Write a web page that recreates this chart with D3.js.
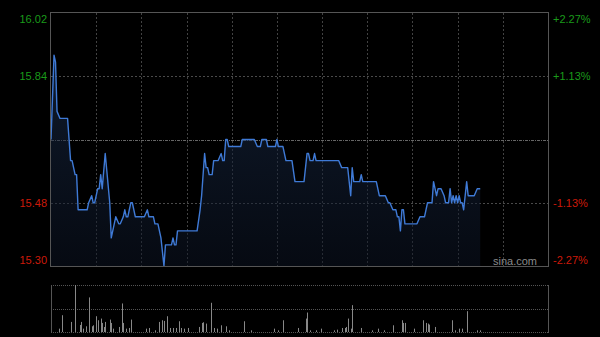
<!DOCTYPE html>
<html>
<head>
<meta charset="utf-8">
<script src="https://cdn.jsdelivr.net/npm/d3@7"></script>
<style>
  body { margin: 0; background: #000; }
  text { font-family: Arial, "Liberation Sans", sans-serif; }
</style>
</head>
<body>
<div id="chart"></div>
<script>
// dados (minuto do pregão, preço)
const priceMinutes = [0, 2, 3, 4, 6, 11, 13, 14, 16, 17, 18, 24, 25, 27, 28, 29, 31, 32, 33, 34, 36, 39, 40, 42, 43, 45, 46, 48, 49, 50, 51, 53, 54, 56, 62, 64, 65, 68, 69, 71, 73, 75, 76, 80, 81, 82, 83, 84, 97, 99, 100, 102, 103, 104, 105, 107, 108, 111, 113, 114, 115, 116, 117, 118, 126, 127, 135, 137, 139, 140, 143, 144, 149, 150, 151, 154, 156, 160, 162, 168, 170, 171, 172, 174, 175, 176, 191, 193, 197, 199, 200, 201, 205, 206, 207, 216, 218, 222, 224, 225, 227, 229, 230, 231, 232, 233, 234, 235, 243, 245, 248, 250, 253, 254, 256, 257, 259, 261, 262, 264, 265, 266, 267, 268, 269, 270, 271, 272, 273, 274, 276, 277, 281, 283, 285];
const prices = [15.66, 15.90, 15.88, 15.74, 15.72, 15.72, 15.60, 15.60, 15.56, 15.56, 15.46, 15.46, 15.48, 15.50, 15.48, 15.48, 15.52, 15.52, 15.56, 15.52, 15.62, 15.48, 15.38, 15.42, 15.44, 15.42, 15.42, 15.44, 15.46, 15.44, 15.44, 15.48, 15.48, 15.44, 15.44, 15.46, 15.44, 15.44, 15.42, 15.42, 15.38, 15.30, 15.36, 15.36, 15.38, 15.36, 15.36, 15.40, 15.40, 15.46, 15.50, 15.62, 15.58, 15.58, 15.56, 15.56, 15.60, 15.60, 15.62, 15.60, 15.60, 15.66, 15.66, 15.64, 15.64, 15.66, 15.66, 15.64, 15.64, 15.66, 15.66, 15.64, 15.64, 15.66, 15.64, 15.64, 15.60, 15.60, 15.54, 15.54, 15.62, 15.62, 15.60, 15.60, 15.62, 15.60, 15.60, 15.58, 15.58, 15.50, 15.58, 15.54, 15.54, 15.56, 15.54, 15.54, 15.50, 15.50, 15.48, 15.48, 15.46, 15.46, 15.44, 15.44, 15.40, 15.46, 15.46, 15.42, 15.42, 15.44, 15.44, 15.48, 15.48, 15.54, 15.50, 15.52, 15.52, 15.50, 15.48, 15.48, 15.52, 15.48, 15.50, 15.48, 15.50, 15.48, 15.50, 15.48, 15.48, 15.46, 15.54, 15.50, 15.50, 15.52, 15.52];

const volMinutes = [5, 7, 13, 16, 19, 20, 21, 23, 25, 27, 28, 30, 31, 33, 34, 35, 36, 39, 40, 41, 45, 47, 48, 50, 52, 53, 63, 65, 69, 72, 74, 75, 77, 79, 81, 83, 85, 86, 88, 91, 98, 100, 101, 103, 106, 108, 110, 113, 116, 118, 128, 133, 148, 151, 154, 164, 169, 170, 172, 176, 179, 188, 190, 193, 195, 196, 197, 199, 200, 206, 213, 217, 221, 227, 233, 234, 235, 241, 247, 249, 250, 251, 255, 266, 268, 271, 273, 276, 283, 285];
const volumes = [10, 50, 30, 140, 21, 30, 10, 17, 103, 17, 20, 47, 35, 40, 27, 15, 30, 37, 27, 10, 15, 85, 27, 10, 12, 37, 10, 12, 5, 30, 35, 33, 47, 12, 12, 12, 32, 12, 10, 12, 15, 27, 29, 25, 87, 12, 10, 20, 17, 5, 32, 5, 10, 5, 35, 12, 40, 58, 5, 5, 10, 5, 7, 12, 12, 15, 40, 10, 80, 12, 5, 10, 5, 20, 35, 27, 27, 10, 35, 27, 25, 22, 15, 35, 5, 10, 10, 62, 5, 5];

const priceTicks = [16.02, 15.84, 15.48, 15.30];
const priceLabels = ["16.02", "15.84", "15.48", "15.30"];
const pctLabels = ["+2.27%", "+1.13%", "-1.13%", "-2.27%"];
const prevClose = 15.66;

const W = 600, H = 337;
const main = {left: 51, right: 548, top: 13, bottom: 266};
const vol = {top: 285, bottom: 332};

const svg = d3.select("#chart")
  .append("svg")
    .attr("width", W)
    .attr("height", H)
    .style("background", "#000");

// escalas
const x = d3.scaleLinear().domain([0, 330]).range([main.left, main.right]);
const y = d3.scaleLinear().domain([15.30, 16.02]).range([main.bottom, main.top]);
const yv = d3.scaleLinear().domain([0, 140]).range([vol.bottom, vol.top]);

// grade vertical
svg.append("g")
  .selectAll("line")
  .data(d3.range(30, 330, 30))
  .join("line")
    .attr("x1", d => Math.round(x(d)) + 0.5)
    .attr("x2", d => Math.round(x(d)) + 0.5)
    .attr("y1", main.top)
    .attr("y2", main.bottom)
    .attr("stroke", "#424242")
    .attr("stroke-dasharray", "2,2");

// grade horizontal
svg.append("g")
  .selectAll("line")
  .data([15.84, 15.48])
  .join("line")
    .attr("x1", main.left)
    .attr("x2", main.right)
    .attr("y1", d => Math.round(y(d)) + 0.5)
    .attr("y2", d => Math.round(y(d)) + 0.5)
    .attr("stroke", "#4a4a4a")
    .attr("stroke-dasharray", "2,2");

svg.append("line")
  .attr("x1", main.left)
  .attr("x2", main.right)
  .attr("y1", Math.round(y(prevClose)) + 0.5)
  .attr("y2", Math.round(y(prevClose)) + 0.5)
  .attr("stroke", "#666")
  .attr("stroke-dasharray", "3,1,1,1");

// área e linha
const pts = priceMinutes.map((m, i) => ({m: m, p: prices[i]}));

const grad = svg.append("defs").append("linearGradient")
  .attr("id", "fill")
  .attr("x1", 0).attr("y1", 0).attr("x2", 0).attr("y2", 1);
grad.append("stop").attr("offset", "0%").attr("stop-color", "#1c3050").attr("stop-opacity", 0.55);
grad.append("stop").attr("offset", "100%").attr("stop-color", "#0c1424").attr("stop-opacity", 0.5);

svg.append("path")
  .datum(pts)
  .attr("fill", "url(#fill)")
  .attr("d", d3.area()
    .x(d => x(d.m))
    .y0(main.bottom)
    .y1(d => y(d.p)));

svg.append("path")
  .datum(pts)
  .attr("fill", "none")
  .attr("stroke", "#3f7ad6")
  .attr("stroke-width", 1.4)
  .attr("stroke-linejoin", "round")
  .attr("d", d3.line()
    .x(d => x(d.m))
    .y(d => y(d.p)));

// borda do painel principal
svg.append("rect")
  .attr("x", main.left - 0.5)
  .attr("y", main.top - 0.5)
  .attr("width", main.right - main.left + 1)
  .attr("height", main.bottom - main.top + 1)
  .attr("fill", "none")
  .attr("stroke", "#555");

// rótulos de preço
svg.append("g")
  .selectAll("text")
  .data(priceTicks)
  .join("text")
    .attr("x", 47)
    .attr("y", (d, i) => Math.min(Math.max(y(d), main.top + 6), main.bottom - 6) + 4)
    .attr("text-anchor", "end")
    .attr("font-size", 11)
    .attr("fill", d => d > prevClose ? "#1a9a1a" : "#cc1a0a")
    .text((d, i) => priceLabels[i]);

svg.append("g")
  .selectAll("text")
  .data(priceTicks)
  .join("text")
    .attr("x", 553)
    .attr("y", (d, i) => Math.min(Math.max(y(d), main.top + 6), main.bottom - 6) + 4)
    .attr("text-anchor", "start")
    .attr("font-size", 11)
    .attr("fill", d => d > prevClose ? "#1a9a1a" : "#cc1a0a")
    .text((d, i) => pctLabels[i]);

svg.append("text")
  .attr("x", 537)
  .attr("y", 265)
  .attr("text-anchor", "end")
  .attr("font-size", 11)
  .attr("fill", "#8a8a8a")
  .text("sina.com");

// painel de volume
[vol.top, (vol.top + vol.bottom) / 2, vol.bottom].forEach(v => {
  svg.append("line")
    .attr("x1", main.left)
    .attr("x2", main.right)
    .attr("y1", Math.round(v) + 0.5)
    .attr("y2", Math.round(v) + 0.5)
    .attr("stroke", "#555")
    .attr("stroke-dasharray", "1,1");
});
[main.left, main.right].forEach(v => {
  svg.append("line")
    .attr("x1", v + 0.5)
    .attr("x2", v + 0.5)
    .attr("y1", vol.top)
    .attr("y2", vol.bottom + 1)
    .attr("stroke", "#555");
});

svg.append("g")
  .selectAll("line")
  .data(volMinutes.map((m, i) => ({m: m, v: volumes[i]})))
  .join("line")
    .attr("x1", d => Math.round(x(d.m)) + 0.5)
    .attr("x2", d => Math.round(x(d.m)) + 0.5)
    .attr("y1", vol.bottom)
    .attr("y2", d => yv(d.v))
    .attr("stroke", "#888");
</script>
</body>
</html>
